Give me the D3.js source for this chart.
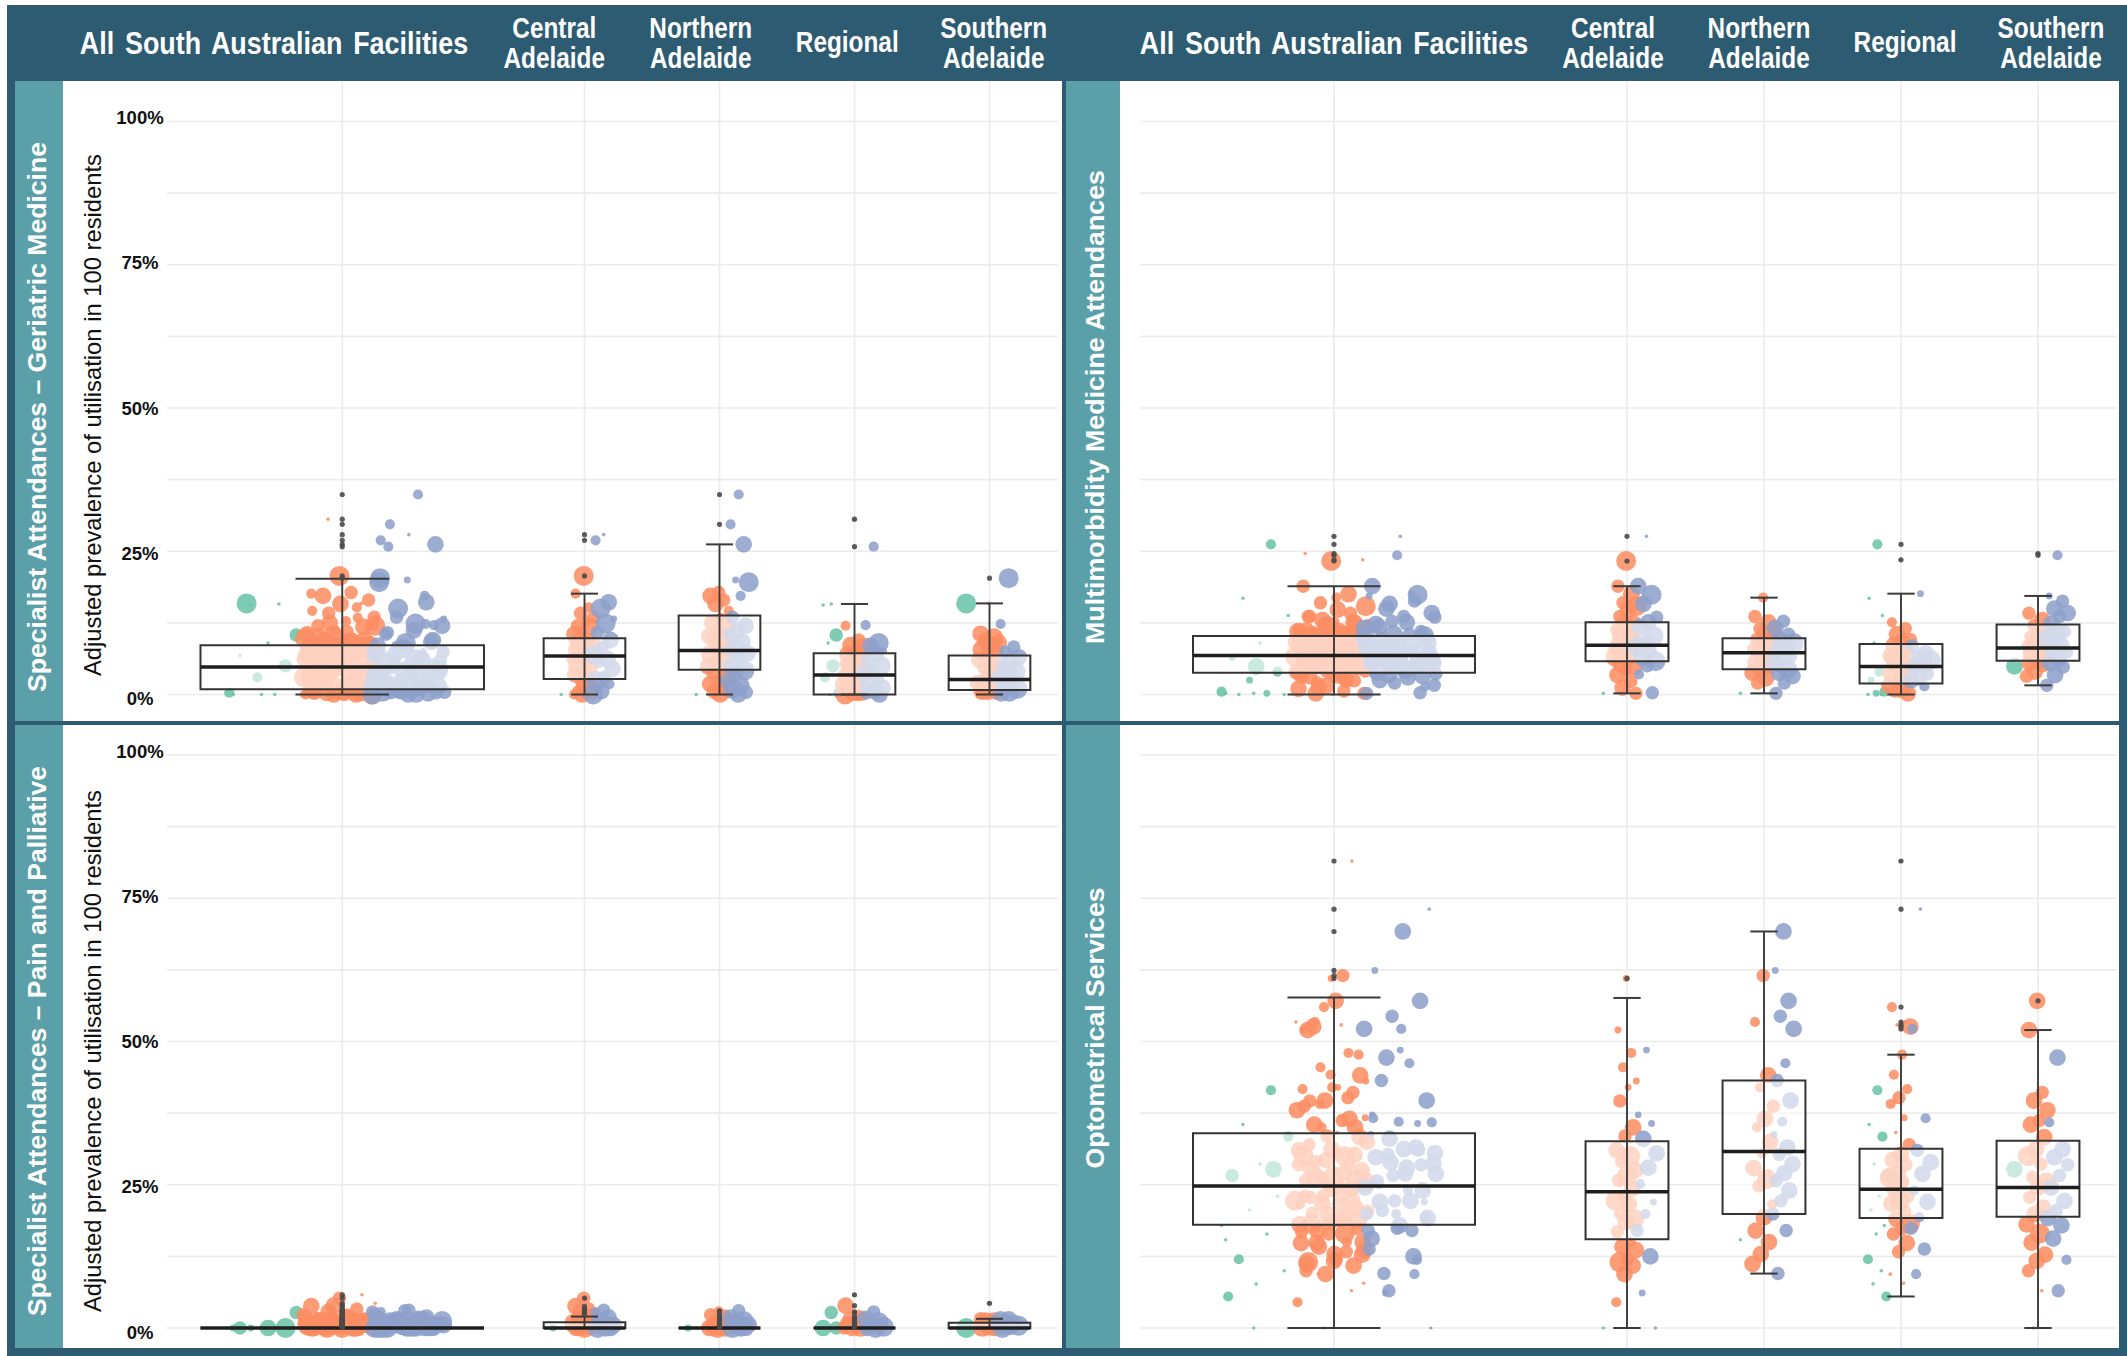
<!DOCTYPE html>
<html>
<head>
<meta charset="utf-8">
<script src="https://cdn.jsdelivr.net/npm/d3@7"></script>
<style>
  html, body { margin: 0; padding: 0; background: #fff; }
  svg { display: block; }
</style>
</head>
<body>
<svg id="chart" width="2127" height="1356"></svg>
<script>
// ---------------------------------------------------------------------------
// Data
// ---------------------------------------------------------------------------
const REGIONS = ["Central Adelaide", "Northern Adelaide", "Regional", "Southern Adelaide"];
const ALL_LABEL = "All South Australian Facilities";
const REGION_HEADER_LINES = [["Central", "Adelaide"], ["Northern", "Adelaide"], ["Regional"], ["Southern", "Adelaide"]];
const MEASURES = [
  "Specialist Attendances \u2013 Geriatric Medicine",
  "Multimorbidity Medicine Attendances",
  "Specialist Attendances \u2013 Pain and Palliative",
  "Optometrical Services"
];
const Y_TITLE = "Adjusted prevalence of utilisation in 100 residents";
const TICK_VALUES = [0, 25, 50, 75, 100];
const TICK_LABELS = ["0%", "25%", "50%", "75%", "100%"];
const GRID_VALUES = [0, 12.5, 25, 37.5, 50, 62.5, 75, 87.5, 100];
const FACILITY_GROUPS = ["Group A", "Group B", "Group C"];

// Box statistics per group: [lower whisker, Q1, median, Q3, upper whisker]
// order: All, Central, Northern, Regional, Southern
const GER_BOX = [[0, 0.9, 4.8, 8.6, 20.2], [0, 2.7, 6.7, 9.8, 17.6], [0, 4.3, 7.7, 13.8, 26.2], [0, 0, 3.4, 7.2, 15.8], [0, 0.8, 2.6, 6.8, 15.9]];
const MM_BOX  = [[0, 3.8, 6.8, 10.2, 18.9], [0.2, 5.8, 8.6, 12.6, 18.9], [0.2, 4.4, 7.3, 9.8, 16.9], [0, 1.9, 4.9, 8.8, 17.6], [1.6, 5.9, 8.1, 12.2, 17.2]];
const PP_BOX  = [[0, 0, 0, 0, 0], [0, 0, 0, 1.0, 2.0], [0, 0, 0, 0, 0], [0, 0, 0, 0, 0], [0, 0, 0, 0.9, 1.6]];
const OPT_BOX = [[0, 18.0, 24.8, 34.0, 57.7], [0, 15.5, 23.8, 32.6, 57.6], [9.5, 19.9, 30.8, 43.2, 69.2], [5.5, 19.2, 24.2, 31.3, 47.7], [0, 19.4, 24.5, 32.7, 52.0]];

// Facilities per region: [group index, adjusted prevalence %, size class 1-6]
const GER_CEN = [[0,0,1],
  [1,20.7,6],[1,17.6,3],[1,15.2,3],[1,14.2,4],[1,13.5,4],[1,12.8,3],[1,12.0,4],[1,11.8,5],[1,11.2,3],[1,10.5,5],[1,9.6,4],[1,9.2,6],[1,8.8,5],[1,8.0,4],[1,7.8,5],[1,7.4,3],[1,6.9,5],[1,6.2,4],[1,5.5,3],[1,5.0,6],[1,4.8,4],[1,4.0,3],[1,3.5,5],[1,3.1,4],[1,2.2,3],[1,1.4,4],[1,1.0,6],[1,0.6,3],[1,0.3,5],[1,0,5],[1,0,3],
  [2,27.9,1],[2,26.9,3],[2,16.1,5],[2,15.0,6],[2,13.2,2],[2,12.4,6],[2,10.8,4],[2,9.5,5],[2,8.2,4],[2,7.0,6],[2,6.2,5],[2,5.8,4],[2,4.5,5],[2,3.0,4],[2,2.4,6],[2,1.8,3],[2,0.6,5],[2,0,6]];
const GER_NOR = [[0,0,1],
  [1,17.8,4],[1,17.2,5],[1,16.5,4],[1,15.8,5],[1,14.6,3],[1,13.4,3],[1,12.5,5],[1,12.0,6],[1,11.0,4],[1,10.2,5],[1,9.6,5],[1,9.0,4],[1,8.1,5],[1,7.4,4],[1,7.0,6],[1,6.5,5],[1,5.5,4],[1,4.9,5],[1,4.4,3],[1,3.6,4],[1,3.0,6],[1,2.6,3],[1,1.8,5],[1,1.0,4],[1,0.6,5],[1,0.2,3],[1,0,5],
  [2,34.9,3],[2,29.7,3],[2,26.2,5],[2,20.0,2],[2,19.6,6],[2,17.2,3],[2,13.5,4],[2,12.0,5],[2,11.2,5],[2,10.5,4],[2,9.2,5],[2,8.0,6],[2,7.2,5],[2,6.5,4],[2,5.0,5],[2,4.2,6],[2,3.7,4],[2,2.4,5],[2,1.6,5],[2,1.0,6],[2,0.4,4],[2,0,5]];
const GER_REG = [[0,15.8,1],[0,15.6,1],[0,10.4,4],[0,9.0,1],[0,6.8,1],[0,5.0,4],[0,3.0,3],[0,0.3,3],[0,0,1],
  [1,30.6,1],[1,12.0,3],[1,9.5,4],[1,8.6,5],[1,8.2,6],[1,7.8,4],[1,7.0,5],[1,6.6,5],[1,6.2,4],[1,5.5,3],[1,5.2,6],[1,4.8,5],[1,4.4,4],[1,4.0,4],[1,3.4,5],[1,2.6,4],[1,2.2,6],[1,1.8,5],[1,1.4,5],[1,1.0,4],[1,0.6,6],[1,0.3,5],[1,0,6],[1,0,4],[1,0,3],
  [2,25.8,3],[2,12.1,3],[2,9.0,6],[2,8.5,5],[2,7.5,2],[2,7.0,5],[2,6.0,4],[2,5.0,6],[2,4.3,4],[2,3.8,5],[2,2.5,4],[2,1.8,6],[2,1.2,5],[2,0.6,5],[2,0.3,4],[2,0,5]];
const GER_SOU = [[0,15.9,6],
  [1,15.9,1],[1,10.6,5],[1,9.8,6],[1,9.4,5],[1,9.0,5],[1,8.2,6],[1,7.8,6],[1,7.4,5],[1,6.5,4],[1,6.0,5],[1,5.5,3],[1,4.6,4],[1,4.2,6],[1,3.6,5],[1,3.0,1],[1,2.8,4],[1,2.4,5],[1,2.0,5],[1,1.2,4],[1,0.8,6],[1,0.5,5],[1,0.2,4],[1,0,3],[1,0,2],
  [2,20.3,6],[2,12.3,3],[2,8.3,4],[2,7.4,4],[2,6.5,5],[2,5.8,5],[2,5.2,4],[2,4.0,6],[2,3.5,6],[2,3.0,5],[2,2.0,4],[2,1.5,5],[2,1.0,6],[2,0.5,6],[2,0.2,5]];

const MM_CEN = [[0,0.2,1],
  [1,23.3,6],[1,18.9,4],[1,17.5,5],[1,16.0,4],[1,15.4,6],[1,14.8,5],[1,13.6,4],[1,12.4,5],[1,12.0,6],[1,11.3,4],[1,10.4,5],[1,10.0,6],[1,9.5,4],[1,8.7,5],[1,8.2,6],[1,7.9,4],[1,7.0,5],[1,6.6,6],[1,6.2,4],[1,5.3,5],[1,4.8,5],[1,4.3,4],[1,3.4,5],[1,2.3,4],[1,1.2,5],[1,0.2,4],
  [2,27.6,1],[2,18.9,5],[2,17.4,6],[2,15.8,5],[2,13.5,4],[2,12.6,5],[2,11.8,5],[2,10.2,6],[2,9.0,5],[2,8.4,6],[2,7.6,4],[2,6.4,5],[2,5.8,6],[2,5.0,4],[2,3.5,3],[2,0.3,4]];
const MM_NOR = [[0,0.2,1],
  [1,16.9,3],[1,13.6,4],[1,12.6,5],[1,11.5,4],[1,11.0,5],[1,10.6,5],[1,9.6,4],[1,9.2,6],[1,8.8,5],[1,8.0,4],[1,7.7,6],[1,7.3,5],[1,6.5,4],[1,6.0,6],[1,5.6,5],[1,4.7,4],[1,4.2,5],[1,3.8,5],[1,2.8,5],[1,2.0,4],
  [2,12.8,4],[2,11.6,5],[2,10.5,4],[2,9.5,5],[2,9.0,6],[2,8.5,6],[2,7.6,5],[2,6.6,4],[2,6.0,6],[2,5.5,5],[2,4.4,6],[2,3.8,5],[2,3.2,5],[2,2.0,4],[2,0.2,4]];
const MM_REG = [[0,26.2,3],[0,16.8,1],[0,13.8,1],[0,9.0,1],[0,6.5,2],[0,4.0,3],[0,2.5,2],[0,0.5,3],[0,0.2,2],[0,0,1],[0,0,1],
  [1,23.5,1],[1,12.6,3],[1,11.5,4],[1,10.5,5],[1,9.6,4],[1,9.1,5],[1,8.6,5],[1,7.7,4],[1,7.2,6],[1,6.8,5],[1,5.9,4],[1,5.4,6],[1,5.0,5],[1,4.1,4],[1,3.6,6],[1,3.2,5],[1,2.4,4],[1,1.5,5],[1,1.0,5],[1,0.6,4],[1,0.2,5],[1,0,2],[1,0,1],
  [2,17.6,2],[2,8.5,4],[2,7.2,5],[2,6.6,4],[2,6.0,6],[2,5.4,6],[2,4.8,5],[2,3.6,4],[2,3.0,5],[2,2.5,5],[2,1.4,3]];
const MM_SOU = [[0,4.9,5],
  [1,24.6,1],[1,14.2,4],[1,13.0,5],[1,12.0,4],[1,11.0,5],[1,10.6,5],[1,10.1,4],[1,9.2,5],[1,8.8,6],[1,8.4,4],[1,7.6,5],[1,7.2,6],[1,6.8,4],[1,6.0,5],[1,5.5,5],[1,5.0,4],[1,4.0,5],[1,3.2,4],
  [2,24.3,3],[2,17.2,2],[2,16.3,4],[2,15.0,5],[2,14.2,5],[2,13.6,4],[2,12.3,5],[2,11.0,4],[2,10.4,6],[2,9.8,6],[2,8.6,5],[2,8.0,6],[2,7.4,4],[2,6.2,5],[2,5.5,5],[2,4.8,4],[2,3.4,5],[2,1.6,4]];

const PP_CEN = [[0,0,1],[0,0,2],
  [1,5.2,4],[1,3.8,5],[1,3.3,4],[1,2.8,5],[1,2.4,4],[1,2.0,5],[1,1.6,4],[1,1.2,5],[1,1.0,6],[1,0.8,6],[1,0.5,5],[1,0.4,6],[1,0.2,4],[1,0,6],[1,0,5],[1,0,4],
  [2,3.1,4],[2,2.8,3],[2,1.8,5],[2,1.0,6],[2,0.5,5],[2,0.2,6],[2,0,6],[2,0,5]];
const PP_NOR = [[0,0,1],[0,0,2],
  [1,2.9,3],[1,2.3,4],[1,1.8,5],[1,1.4,4],[1,1.0,5],[1,0.6,6],[1,0.3,5],[1,0.2,6],[1,0,6],[1,0,5],[1,0,4],[1,0,3],
  [2,3.0,4],[2,1.8,5],[2,1.2,6],[2,0.8,6],[2,0.6,5],[2,0.2,6],[2,0,6],[2,0,5],[2,0,4]];
const PP_REG = [[0,2.7,4],[0,0,5],[0,0,4],
  [1,5.8,1],[1,3.9,5],[1,2.0,4],[1,1.5,5],[1,1.0,6],[1,0.8,6],[1,0.5,5],[1,0.2,6],[1,0,5],[1,0,4],
  [2,2.8,4],[2,1.6,5],[2,1.0,6],[2,0.5,5],[2,0.2,6],[2,0,6],[2,0,5]];
const PP_SOU = [[0,0,6],
  [1,4.3,1],[1,1.6,4],[1,1.3,5],[1,1.0,6],[1,0.7,5],[1,0.4,6],[1,0.2,6],[1,0,5],[1,0,4],
  [2,1.5,5],[2,1.2,6],[2,0.9,5],[2,0.5,6],[2,0.4,6],[2,0.2,5],[2,0,6]];

const OPT_CEN = [[0,0,1],
  [1,61.0,2],[1,52.0,2],[1,48.0,3],[1,45.5,3],[1,43.1,2],[1,42.0,2],[1,39.6,4],[1,35.0,5],[1,33.5,4],[1,31.0,5],[1,30.0,6],[1,29.0,4],[1,27.5,5],[1,26.5,6],[1,25.8,4],[1,24.3,5],[1,23.0,4],[1,22.2,6],[1,21.6,5],[1,20.0,4],[1,19.0,6],[1,18.5,5],[1,16.8,4],[1,15.0,3],[1,14.2,5],[1,13.6,5],[1,12.0,4],[1,11.5,6],[1,10.9,5],[1,9.4,5],[1,4.5,3],
  [2,48.5,2],[2,37.2,2],[2,35.7,2],[2,33.0,5],[2,30.5,5],[2,28.0,5],[2,25.1,3],[2,22.0,2],[2,19.9,3],[2,17.0,4],[2,12.5,5],[2,6.1,2],[2,0,1]];
const OPT_NOR = [[0,15.4,1],
  [1,61.5,4],[1,53.4,3],[1,44.1,5],[1,42.0,3],[1,38.7,4],[1,36.5,5],[1,35.0,3],[1,32.5,5],[1,30.5,3],[1,27.9,5],[1,26.0,6],[1,24.8,4],[1,21.6,3],[1,19.3,5],[1,17.0,5],[1,15.0,5],[1,12.9,5],[1,11.2,5],
  [2,69.2,5],[2,62.4,2],[2,57.1,5],[2,54.4,4],[2,52.2,5],[2,46.2,3],[2,43.2,4],[2,39.7,5],[2,36.0,3],[2,33.8,2],[2,31.5,5],[2,30.3,4],[2,28.6,5],[2,27.0,5],[2,25.7,4],[2,24.0,5],[2,22.2,4],[2,19.9,4],[2,17.0,4],[2,9.5,4]];
const OPT_REG = [[0,41.5,3],[0,35.5,1],[0,33.4,3],[0,28.6,1],[0,26.6,4],[0,23.0,1],[0,20.6,1],[0,17.9,1],[0,16.4,1],[0,12.0,3],[0,10.0,1],[0,7.7,1],[0,5.5,3],
  [1,81.5,1],[1,56.0,3],[1,53.4,1],[1,52.9,1],[1,52.6,5],[1,47.7,3],[1,44.2,3],[1,41.7,3],[1,40.2,4],[1,39.1,3],[1,36.7,2],[1,34.1,1],[1,32.0,4],[1,30.2,5],[1,29.3,5],[1,28.5,4],[1,27.0,5],[1,26.2,6],[1,25.5,4],[1,24.2,5],[1,23.0,4],[1,22.3,6],[1,21.7,5],[1,20.4,4],[1,19.0,5],[1,18.2,6],[1,17.3,4],[1,16.4,4],[1,14.8,5],[1,13.3,4],[1,9.4,1],[1,7.8,1],
  [2,73.1,1],[2,52.2,3],[2,36.6,3],[2,31.0,4],[2,28.9,5],[2,26.9,5],[2,24.0,3],[2,22.0,5],[2,19.3,3],[2,17.4,4],[2,13.8,4],[2,9.4,3]];
const OPT_SOU = [[0,27.7,5],
  [1,57.1,5],[1,52.0,5],[1,41.1,4],[1,39.7,5],[1,38.0,5],[1,36.2,4],[1,35.5,5],[1,33.3,5],[1,31.2,5],[1,30.0,6],[1,28.6,4],[1,26.3,4],[1,25.4,6],[1,24.5,5],[1,22.8,4],[1,21.0,5],[1,19.9,5],[1,18.1,5],[1,16.5,6],[1,14.9,5],[1,12.8,5],[1,11.7,5],[1,10.0,4],[1,6.5,1],[1,0,1],
  [2,47.2,5],[2,35.9,3],[2,31.2,5],[2,29.8,5],[2,28.5,4],[2,26.6,4],[2,24.5,5],[2,22.2,5],[2,20.5,4],[2,19.2,5],[2,17.9,5],[2,15.6,5],[2,11.9,3],[2,6.5,4]];

// ---------------------------------------------------------------------------
// Layout and styling
// ---------------------------------------------------------------------------
const W = 2127, H = 1356;
const FRAME = "#2d5b72", SIDEBAR = "#5b9fa8", GRID = "#ebebeb";
const COLORS = ["#66c2a5", "#fc8d62", "#8da0cb"];
const FONT = "'Liberation Sans', Arial, 'Helvetica Neue', sans-serif";

const COLS = [
  { side: [15, 63], plot: [63, 1063], grid: [167, 1058], allRange: [200.5, 484], regRange: [517, 1057],
    headAll: 274, headRange: [481, 1067], sideTextX: 46, axis: true },
  { side: [1066, 1120], plot: [1120, 2119], grid: [1140, 2117], allRange: [1193, 1475], regRange: [1558.5, 2106.5],
    headAll: 1334, headRange: [1540, 2124], sideTextX: 1104, axis: false }
];
const ROWS = [
  { top: 81, bottom: 721, range: [694.5, 121.5] },
  { top: 725, bottom: 1348, range: [1328, 755] }
];
const PANELS = [
  { measure: 0, col: 0, row: 0, box: GER_BOX, regions: [GER_CEN, GER_NOR, GER_REG, GER_SOU], sideY: 417, sideLen: 550, titleY: 415 },
  { measure: 1, col: 1, row: 0, box: MM_BOX,  regions: [MM_CEN, MM_NOR, MM_REG, MM_SOU],     sideY: 407, sideLen: 474 },
  { measure: 2, col: 0, row: 1, box: PP_BOX,  regions: [PP_CEN, PP_NOR, PP_REG, PP_SOU],     sideY: 1041, sideLen: 550, titleY: 1051 },
  { measure: 3, col: 1, row: 1, box: OPT_BOX, regions: [OPT_CEN, OPT_NOR, OPT_REG, OPT_SOU], sideY: 1028, sideLen: 281 }
];

const svg = d3.select("#chart");
const rScale = d3.scaleLinear().domain([1, 6]).range([1.8, 10]);
const groupOffset = d3.scaleOrdinal().domain([0, 1, 2]).range([-0.285, -0.01, 0.235]);
const JITTER = 0.13;

// deterministic spread of points within a column (golden-ratio sequence)
const spread = k => ((0.5 + k * 0.6180339887) % 1) - 0.5;

// frame + header band
svg.append("rect").attr("x", 7).attr("y", 5).attr("width", W - 7).attr("height", H - 5).attr("fill", FRAME);

// header labels
const header = svg.append("g").attr("fill", "#fff").style("font-family", FONT).style("font-weight", "bold");
COLS.forEach(c => {
  header.append("text")
    .attr("transform", `translate(${c.headAll},54) scale(0.84,1)`)
    .attr("text-anchor", "middle").style("font-size", "32px").style("word-spacing", "4px")
    .text(ALL_LABEL);
  const hb = d3.scaleBand().domain(REGIONS).range(c.headRange);
  REGIONS.forEach((r, i) => {
    const lines = REGION_HEADER_LINES[i];
    const ys = lines.length === 2 ? [38, 68] : [52];
    lines.forEach((ln, j) => {
      header.append("text")
        .attr("transform", `translate(${hb(r) + hb.bandwidth() / 2},${ys[j]}) scale(0.84,1)`)
        .attr("text-anchor", "middle").style("font-size", "29px")
        .text(ln);
    });
  });
});

// panels
PANELS.forEach(p => {
  const c = COLS[p.col], rw = ROWS[p.row];
  const y = d3.scaleLinear().domain([0, 100]).range(rw.range);
  const yLabel = d3.scaleLinear().domain([0, 100]).range([rw.range[0] + 4, rw.range[1] - 4]);
  const g = svg.append("g");

  g.append("rect").attr("x", c.plot[0]).attr("y", rw.top)
    .attr("width", c.plot[1] - c.plot[0]).attr("height", rw.bottom - rw.top).attr("fill", "#fff");
  g.append("rect").attr("x", c.side[0]).attr("y", rw.top)
    .attr("width", c.side[1] - c.side[0]).attr("height", rw.bottom - rw.top).attr("fill", SIDEBAR);
  g.append("text")
    .attr("transform", `translate(${c.sideTextX},${p.sideY}) rotate(-90)`)
    .attr("text-anchor", "middle").attr("fill", "#fff")
    .attr("textLength", p.sideLen).attr("lengthAdjust", "spacingAndGlyphs")
    .style("font-family", FONT).style("font-weight", "bold").style("font-size", "26px")
    .text(MEASURES[p.measure]);

  const xAll = d3.scaleBand().domain([ALL_LABEL]).range(c.allRange);
  const xReg = d3.scaleBand().domain(REGIONS).range(c.regRange).paddingInner(0.395).paddingOuter(0.1975);
  const groups = [
    { cx: xAll(ALL_LABEL) + xAll.bandwidth() / 2, bw: xAll.bandwidth(), pts: p.regions.flat(), stats: p.box[0] }
  ].concat(REGIONS.map((r, i) => ({
    cx: xReg(r) + xReg.bandwidth() / 2, bw: xReg.bandwidth(), pts: p.regions[i], stats: p.box[i + 1]
  })));

  // gridlines
  g.append("g").selectAll("line").data(GRID_VALUES).join("line")
    .attr("x1", c.grid[0]).attr("x2", c.grid[1])
    .attr("y1", d => y(d)).attr("y2", d => y(d))
    .attr("stroke", GRID).attr("stroke-width", 1.6);
  g.append("g").selectAll("line").data(groups).join("line")
    .attr("x1", d => d.cx).attr("x2", d => d.cx)
    .attr("y1", rw.top).attr("y2", rw.bottom)
    .attr("stroke", GRID).attr("stroke-width", 1.6);

  // axis labels on the left column
  if (c.axis) {
    g.append("g").selectAll("text").data(TICK_VALUES).join("text")
      .attr("x", 140).attr("y", d => yLabel(d))
      .attr("text-anchor", "middle").attr("dominant-baseline", "central")
      .attr("fill", "#111").style("font-family", FONT).style("font-weight", "bold").style("font-size", "18.5px")
      .text((d, i) => TICK_LABELS[i]);
    g.append("text")
      .attr("transform", `translate(101,${p.titleY}) rotate(-90)`)
      .attr("text-anchor", "middle").attr("fill", "#111")
      .attr("textLength", 522).attr("lengthAdjust", "spacingAndGlyphs")
      .style("font-family", FONT).style("font-size", "24px")
      .text(Y_TITLE);
  }

  // jittered facilities + box plots
  groups.forEach(gr => {
    const counters = [0, 0, 0];
    const placed = gr.pts.slice().sort((a, b) => a[0] - b[0]).map(d => {
      const k = counters[d[0]]++;
      return { grp: d[0], v: d[1], s: d[2], x: gr.cx + groupOffset(d[0]) * gr.bw + spread(k) * 2 * JITTER * gr.bw };
    });
    const gg = g.append("g");
    gg.append("g").selectAll("circle").data(placed).join("circle")
      .attr("cx", d => d.x).attr("cy", d => y(d.v)).attr("r", d => rScale(d.s))
      .attr("fill", d => COLORS[d.grp]).attr("fill-opacity", 0.86);

    const [lo, q1, med, q3, hi] = gr.stats;
    const x0 = gr.cx - gr.bw / 2, x1 = gr.cx + gr.bw / 2, cap = gr.bw * 0.165;
    gg.append("path")
      .attr("d", `M${x0},${y(q3)}H${x1}V${y(q1)}H${x0}Z`)
      .attr("fill", "#fff").attr("fill-opacity", 0.6)
      .attr("stroke", "#333").attr("stroke-width", 2);
    gg.append("line").attr("x1", gr.cx).attr("x2", gr.cx).attr("y1", y(lo)).attr("y2", y(hi))
      .attr("stroke", "#3a3a3a").attr("stroke-width", 1.9);
    [lo, hi].forEach(v => gg.append("line")
      .attr("x1", gr.cx - cap).attr("x2", gr.cx + cap).attr("y1", y(v)).attr("y2", y(v))
      .attr("stroke", "#3a3a3a").attr("stroke-width", 2));
    gg.append("line").attr("x1", x0).attr("x2", x1).attr("y1", y(med)).attr("y2", y(med))
      .attr("stroke", "#1e1e1e").attr("stroke-width", 3.5);
    const out = gr.pts.filter(d => d[1] > hi || d[1] < lo);
    gg.append("g").selectAll("circle").data(out).join("circle")
      .attr("cx", gr.cx).attr("cy", d => y(d[1])).attr("r", 2.6)
      .attr("fill", "#4a4a4a").attr("fill-opacity", 0.9);
  });
});

// dividers between the panels
svg.append("rect").attr("x", 7).attr("y", 721).attr("width", W - 7).attr("height", 4).attr("fill", FRAME);
svg.append("rect").attr("x", 1062).attr("y", 81).attr("width", 4).attr("height", H - 81).attr("fill", FRAME);
</script>
</body>
</html>
